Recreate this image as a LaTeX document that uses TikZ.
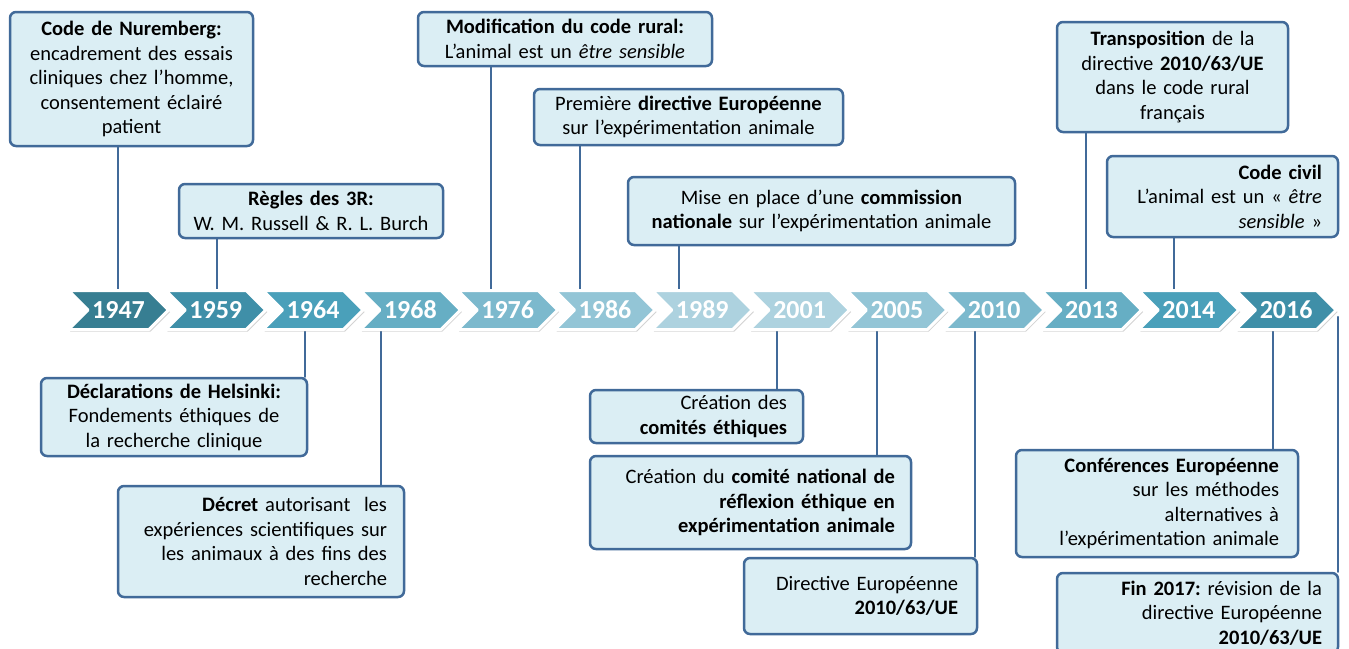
\documentclass[tikz,border=0pt]{standalone}
\usepackage{fontspec}
\setmainfont{Carlito}[WordSpace=0.85]
\usepackage{tikz}
\usetikzlibrary{shapes.symbols,shadows}
\frenchspacing

\definecolor{boxline}{RGB}{65,106,153}
\definecolor{boxfill}{RGB}{219,238,244}
\definecolor{yrA}{RGB}{55,126,146}
\definecolor{yrB}{RGB}{63,143,168}
\definecolor{yrC}{RGB}{74,160,186}
\definecolor{yrD}{RGB}{102,174,196}
\definecolor{yrE}{RGB}{124,185,205}
\definecolor{yrF}{RGB}{147,197,214}
\definecolor{yrG}{RGB}{173,210,223}

\tikzset{
  evt/.style={draw=boxline, fill=boxfill, line width=2.5pt, rounded corners=6pt,
    inner sep=0pt, align=center, font=\fontsize{20.5}{24.5}\selectfont},
  evtR/.style={evt, align=right},
  link/.style={draw=boxline, line width=2.2pt},
  yearbox/.style={signal, signal to=east, signal from=west, signal pointer angle=90,
    minimum width=100pt, minimum height=39pt, inner sep=0pt, draw=white, line width=3pt,
    text=white, font=\fontsize{26}{30}\selectfont\bfseries,
    drop shadow={shadow xshift=1.5pt, shadow yshift=-2pt, opacity=0.35}}
}

\begin{document}
\begin{tikzpicture}[line cap=round,line join=round,x=1pt,y=-1pt]
\useasboundingbox (0,0) rectangle (1349,648);
\clip (0,0) rectangle (1349,648);

% events above the time line
\node[evt, minimum width=243pt, minimum height=134pt, text width=235pt] (nuremberg) at (131.5,79)
  {\textbf{Code de Nuremberg:}\\ encadrement des essais\\ cliniques chez l’homme,\\ consentement éclairé\\ patient};
\node[evt, minimum width=264pt, minimum height=54pt, text width=256pt] (regles) at (311,211)
  {\textbf{Règles des 3R:}\\ W. M. Russell \& R. L. Burch};
\node[evt, minimum width=294pt, minimum height=54pt, text width=286pt] (modif) at (565,39)
  {\textbf{Modification du code rural:}\\ L’animal est un \textit{être sensible}};
\node[evt, minimum width=309pt, minimum height=56pt, text width=301pt] (premiere) at (688.5,117)
  {Première \textbf{directive Européenne}\\ sur l’expérimentation animale};
\node[evt, minimum width=387pt, minimum height=68pt, text width=379pt] (commission) at (821.5,211)
  {Mise en place d’une \textbf{commission}\\ \textbf{nationale} sur l’expérimentation animale};
\node[evt, minimum width=231pt, minimum height=110pt, text width=223pt] (transpo) at (1172.5,77)
  {\textbf{Transposition} de la\\ directive \textbf{2010/63/UE}\\ dans le code rural\\ français};
\node[evtR, minimum width=231pt, minimum height=81pt, text width=199pt] (civil) at (1222.5,196.5)
  {\textbf{Code civil}\\ L’animal est un « \textit{être}\\ \textit{sensible} »};

% events below the time line
\node[evt, minimum width=266pt, minimum height=78pt, text width=258pt] (helsinki) at (174,417)
  {\textbf{Déclarations de Helsinki:}\\ Fondements éthiques de\\ la recherche clinique};
\node[evtR, minimum width=286pt, minimum height=111pt, text width=252pt] (decret) at (261,541.5)
  {\textbf{Décret} autorisant~ les\\ expériences scientifiques sur\\ les animaux à des fins des\\ recherche};
\node[evtR, minimum width=213pt, minimum height=53pt, text width=181pt] (comites) at (696.5,416.5)
  {Création des\\ \textbf{comités éthiques}};
\node[evtR, minimum width=321pt, minimum height=93pt, text width=289pt] (cnrea) at (750.5,502.5)
  {Création du \textbf{comité national de}\\ \textbf{réflexion éthique en}\\ \textbf{expérimentation animale}};
\node[evtR, minimum width=233pt, minimum height=76pt, text width=195pt] (directive) at (860.5,596)
  {Directive Européenne\\ \textbf{2010/63/UE}};
\node[evtR, minimum width=282pt, minimum height=107pt, text width=244pt] (conf) at (1157,503.5)
  {\textbf{Conférences Européenne}\\ sur les méthodes\\ alternatives à\\ l’expérimentation animale};
\node[evtR, minimum width=281pt, minimum height=80pt, text width=249pt] (fin) at (1197.5,613)
  {\textbf{Fin 2017:} révision de la\\ directive Européenne\\ \textbf{2010/63/UE}};

% links to the time line
\coordinate (k1947) at (118,300);
\coordinate (k1959) at (217,300);
\coordinate (k1976) at (491,300);
\coordinate (k1986) at (580,300);
\coordinate (k1989) at (679,300);
\coordinate (k2013) at (1086,300);
\coordinate (k2014) at (1174,300);
\coordinate (k1964) at (305,320);
\coordinate (k1968) at (381,320);
\coordinate (k2001) at (777,320);
\coordinate (k2005) at (877,320);
\coordinate (k2010) at (975,320);
\coordinate (k2016) at (1273,320);
\coordinate (kfin) at (1338,317);

\draw[link] (k1947) -- (k1947 |- nuremberg.south);
\draw[link] (k1959) -- (k1959 |- regles.south);
\draw[link] (k1976) -- (k1976 |- modif.south);
\draw[link] (k1986) -- (k1986 |- premiere.south);
\draw[link] (k1989) -- (k1989 |- commission.south);
\draw[link] (k2013) -- (k2013 |- transpo.south);
\draw[link] (k2014) -- (k2014 |- civil.south);
\draw[link] (k1964) -- (k1964 |- helsinki.north);
\draw[link] (k1968) -- (k1968 |- decret.north);
\draw[link] (k2001) -- (k2001 |- comites.north);
\draw[link] (k2005) -- (k2005 |- cnrea.north);
\draw[link] (k2010) -- (k2010 |- directive.north);
\draw[link] (k2016) -- (k2016 |- conf.north);
\draw[link] (kfin) -- (kfin |- fin.north);

% time line
\foreach \yr/\col [count=\i from 0] in {1947/yrA,1959/yrB,1964/yrC,1968/yrD,1976/yrE,1986/yrF,
    1989/yrG,2001/yrG,2005/yrF,2010/yrE,2013/yrD,2014/yrC,2016/yrB}
  \node[yearbox, fill=\col] (y\yr) at ({118.5+97.3*\i},310) {\yr};
\end{tikzpicture}
\end{document}
